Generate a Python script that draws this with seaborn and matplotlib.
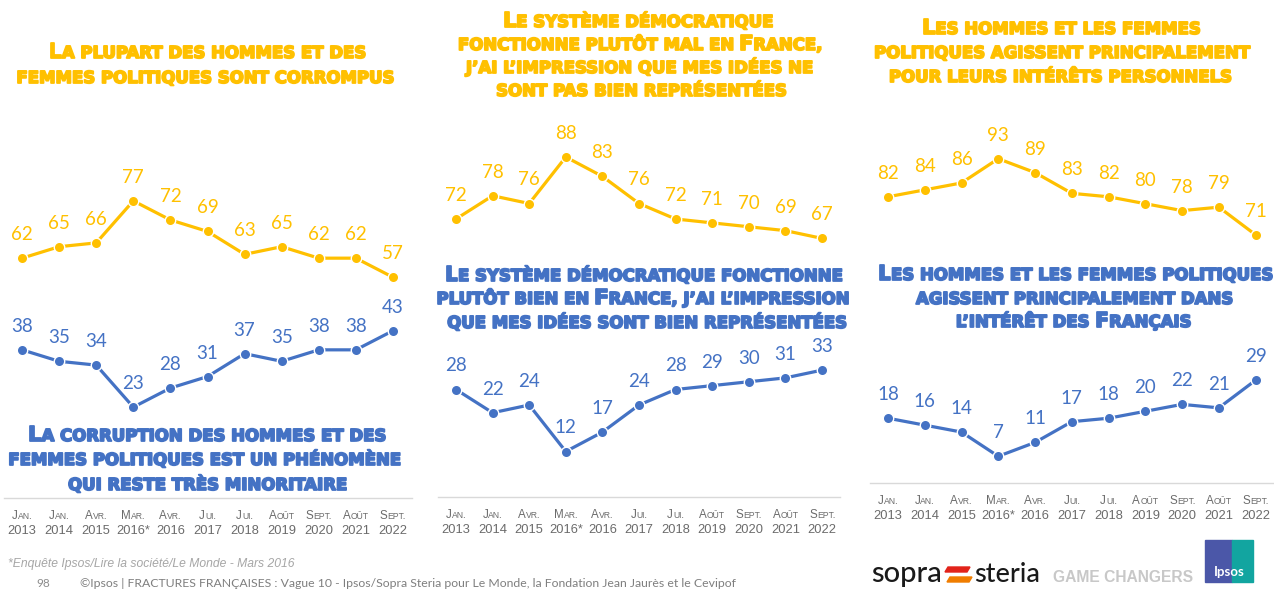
import matplotlib
matplotlib.use("Agg")
import matplotlib.pyplot as plt
from matplotlib import font_manager as fm
from matplotlib.font_manager import FontProperties
from matplotlib.patches import Rectangle, Polygon
import matplotlib.patheffects as pe
import seaborn as sns
import pandas as pd

# ---------------- data ----------------
months = ["Jan.", "Jan.", "Avr.", "Mar.", "Avr.", "Jui.", "Jui.", "Août", "Sept.", "Août", "Sept."]
years = ["2013", "2014", "2015", "2016*", "2016", "2017", "2018", "2019", "2020", "2021", "2022"]

corrompus = [62, 65, 66, 77, 72, 69, 63, 65, 62, 62, 57]
corruption_minoritaire = [38, 35, 34, 23, 28, 31, 37, 35, 38, 38, 43]

democratie_mal = [72, 78, 76, 88, 83, 76, 72, 71, 70, 69, 67]
democratie_bien = [28, 22, 24, 12, 17, 24, 28, 29, 30, 31, 33]

interets_perso = [82, 84, 86, 93, 89, 83, 82, 80, 78, 79, 71]
interet_francais = [18, 16, 14, 7, 11, 17, 18, 20, 22, 21, 29]

title_p1_top = ["La plupart des hommes et des", "femmes politiques sont corrompus"]
title_p1_bot = ["La corruption des hommes et des", "femmes politiques est un phénomène",
                "qui reste très minoritaire"]
title_p2_top = ["Le système démocratique", "fonctionne plutôt mal en France,",
                "j’ai l’impression que mes idées ne", "sont pas bien représentées"]
title_p2_bot = ["Le système démocratique fonctionne", "plutôt bien en France, j’ai l’impression",
                "que mes idées sont bien représentées"]
title_p3_top = ["Les hommes et les femmes", "politiques agissent principalement",
                "pour leurs intérêts personnels"]
title_p3_bot = ["Les hommes et les femmes politiques", "agissent principalement dans",
                "l’intérêt des Français"]

footnote = "*Enquête Ipsos/Lire la société/Le Monde - Mars 2016"
page_no = "98"
source = "©Ipsos | FRACTURES FRANÇAISES : Vague 10 - Ipsos/Sopra Steria pour Le Monde, la Fondation Jean Jaurès et le Cevipof"

# ---------------- style ----------------
YELLOW = "#FFC000"
BLUE = "#4472C4"
TICK_GRAY = "#6b6b6b"
AXIS_GRAY = "#d9d9d9"

sns.set_theme(style="white")
plt.rcParams["font.family"] = ["DejaVu Sans"]


def pick(families):
    for f in families:
        try:
            fm.findfont(FontProperties(family=f), fallback_to_default=False)
            return f
        except Exception:
            continue
    return "DejaVu Sans"


NARROW = pick(["Liberation Sans Narrow", "Liberation Sans"])
TITLE_F = "DejaVu Sans"
NUM_F = pick(["Lato", "Open Sans"])

W, H = 1274, 596
fig = plt.figure(figsize=(W / 100, H / 100), dpi=100)
fig.patch.set_facecolor("white")
renderer = fig.canvas.get_renderer()


def measure(s, fp):
    w1 = renderer.get_text_width_height_descent("|" + s + "|", fp, ismath=False)[0]
    w0 = renderer.get_text_width_height_descent("||", fp, ismath=False)[0]
    return w1 - w0


def sc_runs(text):
    runs = []
    for ch in text:
        big = ch.isupper()
        if runs and runs[-1][1] == big:
            runs[-1][0] += ch
        else:
            runs.append([ch, big])
    return runs


def sc_width(text, size, family, weight, ratio):
    tot = 0
    for s, big in sc_runs(text):
        fp = FontProperties(family=family, weight=weight, size=size if big else size * ratio)
        tot += measure(s.upper(), fp)
    return tot


def smallcaps(text, x, y, size, color, family, weight="bold", ratio=0.76, ha="center",
              stroke=0.0):
    runs = sc_runs(text)
    widths = []
    fps = []
    for s, big in runs:
        fp = FontProperties(family=family, weight=weight, size=size if big else size * ratio)
        fps.append(fp)
        widths.append(measure(s.upper(), fp))
    total = sum(widths)
    cx = x - total / 2 if ha == "center" else x
    for (s, big), w, fp in zip(runs, widths, fps):
        t = fig.text(cx / W, 1 - y / H, s.upper(), fontproperties=fp, color=color,
                     ha="left", va="baseline")
        if stroke > 0:
            t.set_path_effects([pe.withStroke(linewidth=stroke, foreground=color)])
        cx += w


# ---------------- panels ----------------
# (left px, right px, axis px, px per unit, zero px)
panels = [
    (3.5, 411.5, 498, 3.82, 495, corrompus, corruption_minoritaire),
    (437.7, 840.3, 497, 3.875, 498, democratie_mal, democratie_bien),
    (869.6, 1274.0, 483, 3.46, 480.5, interets_perso, interet_francais),
]

for (l, r, b, k, z, top_vals, bot_vals) in panels:
    ax = fig.add_axes([l / W, 1 - b / H, (r - l) / W, b / H])
    ax.patch.set_visible(False)
    ax.set_xlim(-0.5, 10.5 if r < 1274 else -0.5 + 11 * (r - l) / 404.8)
    ax.set_ylim((z - b) / k, z / k)
    for vals, col in [(top_vals, YELLOW), (bot_vals, BLUE)]:
        df = pd.DataFrame({"idx": list(range(len(vals))), "val": vals})
        sns.lineplot(data=df, x="idx", y="val", ax=ax, color=col, lw=2.3,
                     marker="o", markersize=7.5, markeredgecolor="white",
                     markeredgewidth=1.0, zorder=3)
        for i, v in enumerate(vals):
            ax.annotate(str(v), (i, v), xytext=(0, 13), textcoords="offset points",
                        ha="center", va="baseline", color=col, fontsize=13.5,
                        family=NUM_F)
    for s in ["left", "right", "top"]:
        ax.spines[s].set_visible(False)
    ax.spines["bottom"].set_color(AXIS_GRAY)
    ax.spines["bottom"].set_linewidth(1.0)
    ax.set_yticks([])
    ax.set_xlabel("")
    ax.set_ylabel("")
    ax.set_xticks(range(11), labels=years)
    ax.set_xticks([i - 0.5 for i in range(12)], minor=True)
    ax.tick_params(axis="x", which="major", length=0, pad=36 / 1.389,
                   labelsize=9.3, labelcolor=TICK_GRAY)
    ax.tick_params(axis="x", which="minor", length=4, width=1, color=AXIS_GRAY,
                   direction="out")
    for lbl in ax.get_xticklabels():
        lbl.set_va("baseline")
        lbl.set_family(NARROW)
    # month line (small caps) above the years
    for i, m in enumerate(months):
        xp = ax.transData.transform((i, 0))[0]
        smallcaps(m, xp, b + 21, 8.4, TICK_GRAY, NARROW, weight="normal", ratio=0.74)

# ---------------- titles ----------------
blocks = [
    (title_p1_top, [207, 205], [58, 83], [320, 376], YELLOW),
    (title_p1_bot, [207, 204, 207.5], [441, 465, 490], [360, 382, 285], BLUE),
    (title_p2_top, [638, 640, 639, 641], [27, 50, 73, 96], [270, 366, 358, 292], YELLOW),
    (title_p2_bot, [643.5, 642.5, 646.5], [281, 304, 328], [403, 425, 407], BLUE),
    (title_p3_top, [1061, 1061.5, 1060], [34, 58, 82], [278, 377, 350], YELLOW),
    (title_p3_bot, [1075, 1074, 1073.5], [280, 304, 327], [396, 318, 247], BLUE),
]
ratio_t = 0.8
sizes = []
for lines, xs, ys, ws, col in blocks:
    for ln, w in zip(lines, ws):
        sizes.append(10 * (w - 2) / sc_width(ln, 10, TITLE_F, "bold", ratio_t))
sizes.sort()
tsize = sizes[len(sizes) // 2]
for lines, xs, ys, ws, col in blocks:
    for ln, x, y in zip(lines, xs, ys):
        smallcaps(ln, x, y, tsize, col, TITLE_F, weight="bold", ratio=ratio_t, stroke=1.3)


# ---------------- footer ----------------
def fit_text(s, x, y, target_w, color, family, weight="normal", style="normal"):
    fp = FontProperties(family=family, weight=weight, style=style, size=10)
    size = 10 * target_w / measure(s, fp)
    fig.text(x / W, 1 - y / H, s, fontsize=size, family=family, weight=weight,
             style=style, color=color, ha="left", va="baseline")


fit_text(footnote, 8, 567, 288, "#a6a6a6", NARROW, style="italic")
fig.text(36 / W, 1 - 587 / H, page_no, fontsize=8.5, color="#8c8c8c", family=NUM_F,
         ha="left", va="baseline")
fit_text(source, 80, 587, 658, "#7f7f7f", NUM_F)

# logos (drawn as text + simple shapes)
fit_text("sopra", 871, 582, 71, "#1a1a1a", NUM_F, weight="medium")
fit_text("steria", 974, 582, 66, "#1a1a1a", NUM_F, weight="medium")
fig.patches.append(Polygon([(948 / W, 1 - 567 / H), (970 / W, 1 - 567 / H), (967 / W, 1 - 572 / H),
                            (945 / W, 1 - 572 / H)], closed=True, transform=fig.transFigure,
                           color="#e2231a", figure=fig))
fig.patches.append(Polygon([(950 / W, 1 - 577 / H), (972 / W, 1 - 577 / H), (969 / W, 1 - 582 / H),
                            (947 / W, 1 - 582 / H)], closed=True, transform=fig.transFigure,
                           color="#f07d00", figure=fig))
fit_text("GAME CHANGERS", 1053, 582, 140, "#c8c8c8", "Liberation Sans", weight="bold")
fig.patches.append(Rectangle((1205 / W, 1 - 582 / H), 27 / W, 42 / H, transform=fig.transFigure,
                             color="#4b57a8", figure=fig))
fig.patches.append(Rectangle((1232 / W, 1 - 582 / H), 21 / W, 42 / H, transform=fig.transFigure,
                             color="#12a5a0", figure=fig))
fig.text(1229 / W, 1 - 576 / H, "Ipsos", fontsize=9.5, weight="bold", color="white",
         family=NUM_F, ha="center", va="baseline")

fig.savefig("out.png", dpi=100)
